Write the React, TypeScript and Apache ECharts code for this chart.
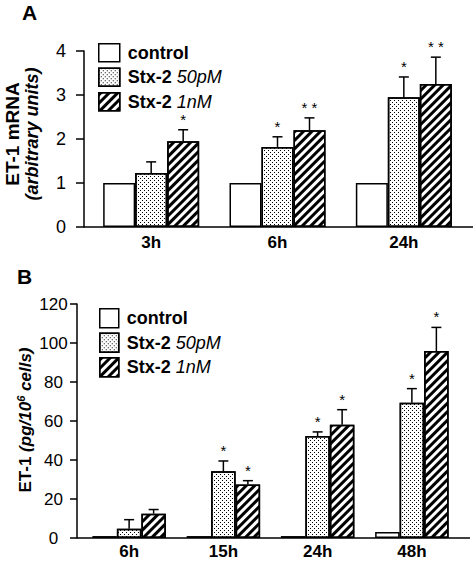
import React, { useEffect, useRef } from 'react';
import * as echarts from 'echarts';

// ---------- Data ----------
const seriesNames = ['control', 'Stx-2 50pM', 'Stx-2 1nM'];

// Panel A: ET-1 mRNA (arbitrary units)
const catsA = ['3h', '6h', '24h'];
const controlA = [1, 1, 1];
const stx50A = [1.23, 1.82, 2.95];
const stx1A = [1.95, 2.2, 3.25];
const stx50ErrTopA = [1.48, 2.05, 3.41];
const stx1ErrTopA = [2.21, 2.48, 3.86];
const stx50StarsA = ['', '*', '*'];
const stx1StarsA = ['*', '* *', '* *'];

// Panel B: ET-1 (pg/10^6 cells)
const catsB = ['6h', '15h', '24h', '48h'];
const controlB = [1, 1, 1, 3.1];
const stx50B = [4.8, 34.2, 52.3, 69.4];
const stx1B = [12.5, 27.5, 58.1, 95.9];
const stx50ErrTopB = [9.4, 39.5, 54.4, 76.6];
const stx1ErrTopB = [14.6, 29.4, 65.8, 108];
const stx50StarsB = ['', '*', '*', '*'];
const stx1StarsB = ['', '*', '*', '*'];

const FONT = '"Liberation Sans", Arial, sans-serif';

const dotsDecal = {
  symbol: 'rect',
  symbolSize: 1,
  color: '#000',
  backgroundColor: 'rgba(0,0,0,0)',
  dashArrayX: [[1, 3], [0, 2, 1, 1]],
  dashArrayY: [1, 1],
  rotation: 0,
};
const hatchDecal = {
  symbol: 'rect',
  symbolSize: 1,
  color: '#000',
  backgroundColor: 'rgba(0,0,0,0)',
  dashArrayX: [1, 0],
  dashArrayY: [3, 3],
  rotation: -Math.PI / 4,
};
const decals = [undefined, dotsDecal, hatchDecal];

function buildErr(s50: number[], s1: number[], e50: number[], e1: number[], st50: string[], st1: string[]) {
  const data: number[][] = [];
  const stars: string[] = [];
  for (let i = 0; i < s50.length; i++) {
    data.push([i, s50[i], e50[i], 1]);
    stars.push(st50[i]);
    data.push([i, s1[i], e1[i], 2]);
    stars.push(st1[i]);
  }
  return { data, stars };
}

function makeErrSeries(idx: number, barW: number, built: { data: number[][]; stars: string[] }) {
  return {
    type: 'custom',
    xAxisIndex: idx,
    yAxisIndex: idx,
    z: 5,
    silent: true,
    data: built.data,
    renderItem: (params: any, api: any) => {
      const ci = api.value(0);
      const v = api.value(1);
      const e = api.value(2);
      const k = api.value(3);
      const base = api.coord([ci, v]);
      const top = api.coord([ci, e]);
      const x = base[0] + (k - 1) * barW;
      const star = built.stars[params.dataIndex];
      return {
        type: 'group',
        children: [
          { type: 'line', shape: { x1: x, y1: base[1], x2: x, y2: top[1] }, style: { stroke: '#000', lineWidth: 1.5 } },
          { type: 'line', shape: { x1: x - 5, y1: top[1], x2: x + 5, y2: top[1] }, style: { stroke: '#000', lineWidth: 1.5 } },
          {
            type: 'text',
            style: {
              text: star,
              x,
              y: top[1] - 10.5,
              align: 'center',
              verticalAlign: 'middle',
              fontSize: 15,
              lineHeight: 8,
              fontFamily: FONT,
              fill: '#000',
            },
          },
        ],
      };
    },
  };
}

function makeBars(idx: number, barW: number, vals: number[][]) {
  return vals.map((v, k) => ({
    name: seriesNames[k],
    type: 'bar',
    xAxisIndex: idx,
    yAxisIndex: idx,
    barWidth: barW,
    barGap: '0%',
    data: v,
    itemStyle: {
      color: '#fff',
      borderColor: '#000',
      borderWidth: 1.5,
      decal: decals[k],
    },
  }));
}

const legendRich = {
  b: { fontFamily: FONT, fontSize: 18, lineHeight: 18, fontWeight: 'bold', color: '#000', padding: [0, 0, 0, 3] },
  i: { fontFamily: FONT, fontSize: 18, lineHeight: 18, fontStyle: 'italic', color: '#000' },
};
const legendFormatter = (name: string) => {
  if (name === 'control') return '{b|control}';
  const parts = name.split(' ');
  return '{b|' + parts[0] + ' }{i|' + parts[1] + '}';
};

function makeLegend(left: number, top: number, w: number, h: number, gap: number) {
  return {
    orient: 'vertical',
    left,
    top,
    itemWidth: w,
    itemHeight: h,
    itemGap: gap,
    selectedMode: false,
    data: seriesNames,
    icon: 'rect',
    itemStyle: { borderColor: '#000', borderWidth: 1.5 },
    formatter: legendFormatter,
    textStyle: { fontFamily: FONT, fontSize: 18, lineHeight: 18, color: '#000', rich: legendRich },
  };
}

const axisLine = { show: true, lineStyle: { color: '#000', width: 1.5 } };

export default function App() {
  const ref = useRef<HTMLDivElement>(null);
  useEffect(() => {
    if (!ref.current) return;
    const chart = echarts.init(ref.current, undefined, { renderer: 'svg' });
    const barWA = 32;
    const barWB = 24.5;
    const errA = buildErr(stx50A, stx1A, stx50ErrTopA, stx1ErrTopA, stx50StarsA, stx1StarsA);
    const errB = buildErr(stx50B, stx1B, stx50ErrTopB, stx1ErrTopB, stx50StarsB, stx1StarsB);
    const option: any = {
      animation: false,
      backgroundColor: '#fff',
      grid: [
        { left: 88, right: 8, top: 51, bottom: 335 },
        { left: 82, right: 16, top: 304, bottom: 24 },
      ],
      xAxis: [
        {
          type: 'category',
          gridIndex: 0,
          data: catsA,
          axisLine: { show: false },
          axisTick: { show: false },
          axisLabel: { fontFamily: FONT, fontSize: 17, fontWeight: 'bold', color: '#000', margin: 7 },
        },
        {
          type: 'category',
          gridIndex: 1,
          data: catsB,
          axisLine: { show: false },
          axisTick: { show: false },
          axisLabel: { fontFamily: FONT, fontSize: 17, fontWeight: 'bold', color: '#000', margin: 5 },
        },
      ],
      yAxis: [
        {
          type: 'value',
          gridIndex: 0,
          min: 0,
          max: 4,
          interval: 1,
          offset: 4,
          axisLine,
          axisTick: { show: true, length: 8, lineStyle: { color: '#000', width: 1.5 } },
          splitLine: { show: false },
          axisLabel: { fontFamily: FONT, fontSize: 18, color: '#000', margin: 23, align: 'center' },
        },
        {
          type: 'value',
          gridIndex: 1,
          min: 0,
          max: 120,
          interval: 20,
          offset: 5,
          axisLine,
          axisTick: { show: true, length: 7, lineStyle: { color: '#000', width: 1.5 } },
          splitLine: { show: false },
          axisLabel: { fontFamily: FONT, fontSize: 17, color: '#000', margin: 23.5, align: 'center' },
        },
      ],
      legend: [makeLegend(93, 38, 21, 18, 5), makeLegend(94, 303, 19, 19, 4)],
      series: [
        ...makeBars(0, barWA, [controlA, stx50A, stx1A]),
        ...makeBars(1, barWB, [controlB, stx50B, stx1B]),
        makeErrSeries(0, barWA, errA),
        makeErrSeries(1, barWB, errB),
      ],
      graphic: [
        { type: 'line', shape: { x1: 84, y1: 227, x2: 473, y2: 227 }, style: { stroke: '#000', lineWidth: 1.5 }, z: 10 },
        { type: 'line', shape: { x1: 77, y1: 538, x2: 470, y2: 538 }, style: { stroke: '#000', lineWidth: 1.5 }, z: 10 },
        {
          type: 'text',
          x: 22,
          y: 12,
          style: { text: 'A', fontFamily: FONT, fontSize: 21, fontWeight: 'bold', fill: '#000', align: 'left', verticalAlign: 'middle' },
        },
        {
          type: 'text',
          x: 17,
          y: 276,
          style: { text: 'B', fontFamily: FONT, fontSize: 21, fontWeight: 'bold', fill: '#000', align: 'left', verticalAlign: 'middle' },
        },
        {
          type: 'text',
          x: 22,
          y: 134,
          rotation: Math.PI / 2,
          style: {
            text: '{b|ET-1 mRNA}\n{bi|(arbitrary units)}',
            align: 'center',
            verticalAlign: 'middle',
            fill: '#000',
            rich: {
              b: { fontFamily: FONT, fontSize: 19, fontWeight: 'bold', lineHeight: 19, fill: '#000' },
              bi: { fontFamily: FONT, fontSize: 18, fontWeight: 'bold', fontStyle: 'italic', lineHeight: 19, fill: '#000' },
            },
          },
        },
        {
          type: 'text',
          x: 25,
          y: 420,
          rotation: Math.PI / 2,
          style: {
            text: '{b|ET-1 }{bi|(pg/10}{sup|6}{bi| cells)}',
            align: 'center',
            verticalAlign: 'middle',
            fill: '#000',
            rich: {
              b: { fontFamily: FONT, fontSize: 17, fontWeight: 'bold', lineHeight: 20, fill: '#000' },
              bi: { fontFamily: FONT, fontSize: 17, fontWeight: 'bold', fontStyle: 'italic', lineHeight: 20, fill: '#000' },
              sup: { fontFamily: FONT, fontSize: 11, fontWeight: 'bold', fontStyle: 'italic', lineHeight: 20, verticalAlign: 'top', padding: [0, 0, 6, 0], fill: '#000' },
            },
          },
        },
      ],
    };
    chart.setOption(option);
    return () => chart.dispose();
  }, []);
  return (
    <div
      ref={ref}
      style={{ position: 'absolute', left: 0, top: 0, width: 475, height: 562, background: '#fff' }}
    />
  );
}
